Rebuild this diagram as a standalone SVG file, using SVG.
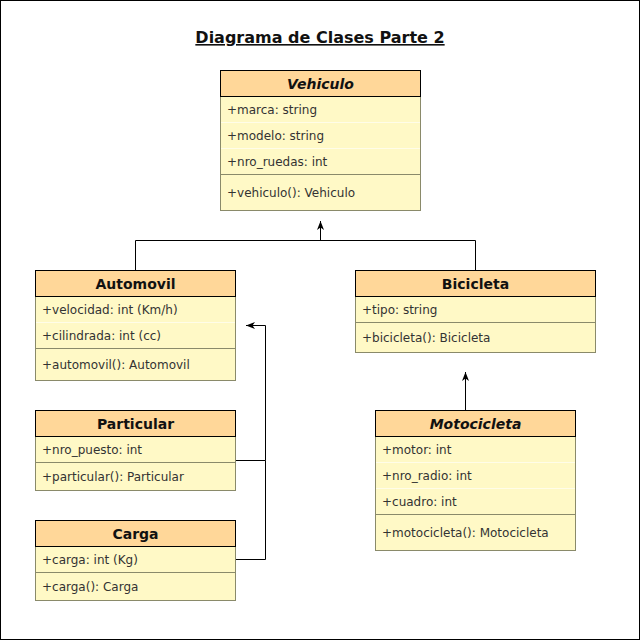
<svg xmlns="http://www.w3.org/2000/svg" width="641" height="641" viewBox="0 0 641 641">
<defs>
<style>
.hdr{fill:#FFD799;stroke:#000;stroke-width:1}
.body{fill:#FFF9C6;stroke:#8A8A6A;stroke-width:1}
.div{stroke:#8A8A6A;stroke-width:1}
.sep{stroke:#FFFDE8;stroke-width:1}
.t{font-family:"DejaVu Sans",Verdana,sans-serif;font-size:12px;fill:#333}
.h{font-family:"DejaVu Sans",Verdana,sans-serif;font-size:14px;font-weight:bold;fill:#111;text-anchor:middle}
.i{font-style:italic}
.c{fill:none;stroke:#000;stroke-width:1}
</style>
<marker id="arr" markerUnits="userSpaceOnUse" markerWidth="10" markerHeight="8" refX="9" refY="3.5" orient="auto">
<path d="M0,0 L9,3.5 L0,7 L2.5,3.5 Z" fill="#000"/>
</marker>
</defs>
<rect x="0.5" y="0.5" width="639" height="639" fill="#fff" stroke="#000"/>
<text x="320" y="43" font-family="DejaVu Sans,Verdana,sans-serif" font-size="16" font-weight="bold" text-anchor="middle" text-decoration="underline" fill="#111">Diagrama de Clases Parte 2</text>

<g id="connectors">
<path class="c" d="M135.5 270 V240.5 H475.5 V270"/>
<path class="c" d="M320.5 240.5 V221" marker-end="url(#arr)"/>
<path class="c" d="M235 460.5 H265.5 V325.5 H246" marker-end="url(#arr)"/>
<path class="c" d="M235 559.5 H265.5 V460.5"/>
<path class="c" d="M465.5 410 V372" marker-end="url(#arr)"/>
</g>

<g id="vehiculo">
<rect class="body" x="220.5" y="96.5" width="200" height="114"/>
<rect class="hdr" x="220.5" y="70.5" width="200" height="26"/>
<line class="sep" x1="221" y1="122.5" x2="420" y2="122.5"/>
<line class="sep" x1="221" y1="148.5" x2="420" y2="148.5"/>
<line class="div" x1="220.5" y1="174.5" x2="420.5" y2="174.5"/>
<text class="h i" x="320.5" y="88.5">Vehiculo</text>
<text class="t" x="227" y="114">+marca: string</text>
<text class="t" x="227" y="140">+modelo: string</text>
<text class="t" x="227" y="166">+nro_ruedas: int</text>
<text class="t" x="227" y="196.5">+vehiculo(): Vehiculo</text>
</g>

<g id="automovil">
<rect class="body" x="35.5" y="296.5" width="200" height="84"/>
<rect class="hdr" x="35.5" y="270.5" width="200" height="26"/>
<line class="sep" x1="36" y1="322.5" x2="235" y2="322.5"/>
<line class="div" x1="35.5" y1="348.5" x2="235.5" y2="348.5"/>
<text class="h" x="135.5" y="288.5">Automovil</text>
<text class="t" x="42" y="314">+velocidad: int (Km/h)</text>
<text class="t" x="42" y="340">+cilindrada: int (cc)</text>
<text class="t" x="42" y="368.5">+automovil(): Automovil</text>
</g>

<g id="bicicleta">
<rect class="body" x="355.5" y="296.5" width="240" height="56"/>
<rect class="hdr" x="355.5" y="270.5" width="240" height="26"/>
<line class="div" x1="355.5" y1="322.5" x2="595.5" y2="322.5"/>
<text class="h" x="475.5" y="288.5">Bicicleta</text>
<text class="t" x="362" y="314">+tipo: string</text>
<text class="t" x="362" y="341.5">+bicicleta(): Bicicleta</text>
</g>

<g id="particular">
<rect class="body" x="35.5" y="436.5" width="200" height="54"/>
<rect class="hdr" x="35.5" y="410.5" width="200" height="26"/>
<line class="div" x1="35.5" y1="462.5" x2="235.5" y2="462.5"/>
<text class="h" x="135.5" y="428.5">Particular</text>
<text class="t" x="42" y="454">+nro_puesto: int</text>
<text class="t" x="42" y="480.5">+particular(): Particular</text>
</g>

<g id="carga">
<rect class="body" x="35.5" y="546.5" width="200" height="54"/>
<rect class="hdr" x="35.5" y="520.5" width="200" height="26"/>
<line class="div" x1="35.5" y1="572.5" x2="235.5" y2="572.5"/>
<text class="h" x="135.5" y="538.5">Carga</text>
<text class="t" x="42" y="564">+carga: int (Kg)</text>
<text class="t" x="42" y="590.5">+carga(): Carga</text>
</g>

<g id="motocicleta">
<rect class="body" x="375.5" y="436.5" width="200" height="114"/>
<rect class="hdr" x="375.5" y="410.5" width="200" height="26"/>
<line class="sep" x1="376" y1="462.5" x2="575" y2="462.5"/>
<line class="sep" x1="376" y1="488.5" x2="575" y2="488.5"/>
<line class="div" x1="375.5" y1="514.5" x2="575.5" y2="514.5"/>
<text class="h i" x="475.5" y="428.5">Motocicleta</text>
<text class="t" x="382" y="454">+motor: int</text>
<text class="t" x="382" y="480">+nro_radio: int</text>
<text class="t" x="382" y="506">+cuadro: int</text>
<text class="t" x="382" y="536.5">+motocicleta(): Motocicleta</text>
</g>
</svg>
